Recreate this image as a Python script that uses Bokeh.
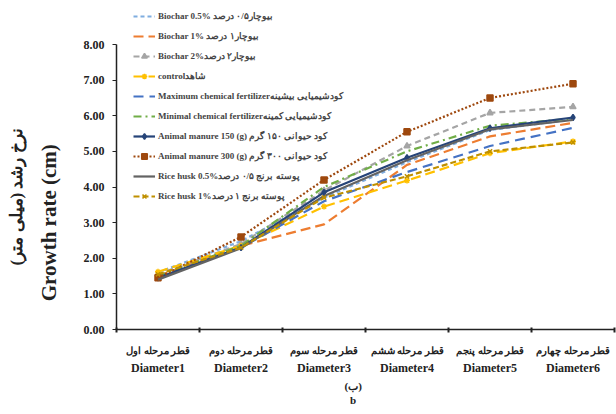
from bokeh.plotting import figure
from bokeh.models import (Range1d, FixedTicker, LinearAxis, NumeralTickFormatter,
                          Legend, LegendItem)
from bokeh.embed import file_html
from bokeh.resources import INLINE

# Growth stages (one per measurement)
categories = ["Diameter1", "Diameter2", "Diameter3", "Diameter4", "Diameter5", "Diameter6"]
persian_ticks = ["قطر مرحله اول", "قطر مرحله دوم", "قطر مرحله سوم",
                 "قطر مرحله ششم", "قطر مرحله پنجم", "قطر مرحله چهارم"]

# Growth rate (cm) per treatment
biochar_05 = [1.60, 2.48, 3.70, 4.70, 5.60, 5.90]
biochar_1 = [1.50, 2.35, 2.95, 4.62, 5.42, 5.80]
biochar_2 = [1.55, 2.40, 3.90, 5.15, 6.08, 6.25]
control = [1.62, 2.35, 3.45, 4.18, 4.95, 5.28]
max_chem = [1.45, 2.30, 3.60, 4.42, 5.15, 5.66]
min_chem = [1.50, 2.35, 4.00, 5.00, 5.72, 5.92]
manure_150 = [1.45, 2.30, 3.85, 4.82, 5.65, 5.95]
manure_300 = [1.45, 2.60, 4.20, 5.55, 6.50, 6.90]
husk_05 = [1.40, 2.28, 3.75, 4.75, 5.62, 5.88]
husk_1 = [1.55, 2.30, 3.70, 4.30, 5.00, 5.25]

y_ticks = [0, 1, 2, 3, 4, 5, 6, 7, 8]

series = [
    ("Biochar 0.5% بیوچار۰/۵ درصد", biochar_05, "#7FADE0", "4 3", None),
    ("Biochar 1% بیوچار۱ درصد", biochar_1, "#ED7D31", "10 5", None),
    ("Biochar 2%بیوچار۲ درصد", biochar_2, "#A5A5A5", "6 4", "triangle"),
    ("controlشاهد", control, "#FFC000", "10 5", "asterisk"),
    ("Maximum chemical fertilizerکودشیمیایی بیشینه", max_chem, "#4472C4", "10 6", None),
    ("Minimal chemical fertilizerکودشیمیایی کمینه", min_chem, "#70AD47", "8 4 2 4", None),
    ("Animal manure 150 (g) کود حیوانی ۱۵۰ گرم", manure_150, "#264478", "solid", "diamond"),
    ("Animal manure 300 (g) کود حیوانی ۳۰۰ گرم", manure_300, "#9E480E", "2 2", "square"),
    ("Rice husk 0.5%پوسته برنج ۰/۵ درصد", husk_05, "#636363", "solid", None),
    ("Rice husk 1%پوسته برنج ۱ درصد", husk_1, "#BF9000", "6 3", "x"),
]

FONT = "Liberation Serif"
INK = "#222222"
NBSP = "\u00a0"
xs = list(range(1, len(categories) + 1))

# the value axis stops at 8; the space above it holds the legend
p = figure(width=616, height=414, output_backend="svg", toolbar_location=None,
           x_range=Range1d(0.5, 6.5), y_range=Range1d(0, 8 * 329 / 285),
           min_border_left=116, min_border_right=2, min_border_top=0,
           min_border_bottom=85)
p.outline_line_color = None
p.grid.grid_line_color = None
p.background_fill_color = "white"
p.border_fill_color = "white"

items = []
for name, vals, color, dash, marker in series:
    rends = [p.line(xs, vals, line_color=color, line_width=2.2, line_dash=dash)]
    if marker:
        rends.append(p.scatter(xs, vals, marker=marker, size=6, color=color,
                               line_width=1.5))
    items.append(LegendItem(label=name, renderers=rends))

legend = Legend(items=items, location=(17, 126), padding=2, margin=0,
                glyph_width=22, glyph_height=14, label_height=14, spacing=6,
                label_standoff=3, label_text_font=FONT, label_text_font_style="bold",
                label_text_font_size="9px", background_fill_alpha=0,
                border_line_color=None)
p.add_layout(legend, "center")


def bare_axis(ax):
    ax.axis_line_color = None
    ax.major_tick_line_color = None
    ax.minor_tick_line_color = None
    ax.major_tick_out = 0
    ax.major_tick_in = 0
    ax.axis_label_text_font = FONT
    ax.axis_label_text_font_style = "bold"
    ax.axis_label_text_color = INK


# y axis with ticks
ya = p.yaxis[0]
ya.bounds = (0, 8)
ya.ticker = FixedTicker(ticks=y_ticks)
ya.formatter = NumeralTickFormatter(format="0.00")
ya.minor_tick_line_color = None
ya.major_tick_in = 0
ya.major_tick_out = 4
ya.major_label_standoff = 8
ya.major_label_text_font = FONT
ya.major_label_text_font_style = "bold"
ya.major_label_text_font_size = "12px"
ya.major_label_text_color = INK
ya.axis_line_width = 1.5
ya.axis_line_color = INK
ya.major_tick_line_color = INK

# axis titles: English line, then Persian line further out
# (trailing no-break spaces push each title down along the axis)
y_en = LinearAxis(ticker=FixedTicker(ticks=[]),
                  axis_label="Growth rate (cm)" + NBSP * 22)
bare_axis(y_en)
y_en.axis_label_text_font_size = "21px"
y_en.axis_label_standoff = 20
p.add_layout(y_en, "left")

y_fa = LinearAxis(ticker=FixedTicker(ticks=[]),
                  axis_label="نرخ رشد (میلی متر)" + NBSP * 15)
bare_axis(y_fa)
y_fa.axis_label_text_font_size = "17px"
y_fa.axis_label_standoff = 8
p.add_layout(y_fa, "left")

# x axis with Persian stage names, ticks between categories
xa = p.xaxis[0]
xa.ticker = FixedTicker(ticks=xs, minor_ticks=[0.5, 1.5, 2.5, 3.5, 4.5, 5.5, 6.5])
xa.major_label_overrides = {i + 1: t for i, t in enumerate(persian_ticks)}
xa.major_tick_line_color = None
xa.major_tick_out = 0
xa.major_tick_in = 0
xa.minor_tick_out = 3
xa.minor_tick_in = 2
xa.minor_tick_line_width = 2
xa.minor_tick_line_color = INK
xa.axis_line_width = 1.5
xa.axis_line_color = INK
xa.major_label_standoff = 12
xa.major_label_text_font = FONT
xa.major_label_text_font_style = "bold"
xa.major_label_text_font_size = "10px"
xa.major_label_text_color = INK

# second row of x labels in English
xa2 = LinearAxis(ticker=FixedTicker(ticks=xs),
                 major_label_overrides={i + 1: c for i, c in enumerate(categories)})
bare_axis(xa2)
xa2.major_label_standoff = 2
xa2.major_label_text_font = FONT
xa2.major_label_text_font_style = "bold"
xa2.major_label_text_font_size = "12px"
xa2.major_label_text_color = INK
p.add_layout(xa2, "below")

# panel caption under the stage names
pad = NBSP * 9
xa3 = LinearAxis(ticker=FixedTicker(ticks=[]),
                 axis_label="(ب)" + pad + "\nb" + pad)
bare_axis(xa3)
xa3.axis_label_text_font_size = "11px"
xa3.axis_label_standoff = 2
p.add_layout(xa3, "below")

open("out.html", "w").write(file_html(p, INLINE))
